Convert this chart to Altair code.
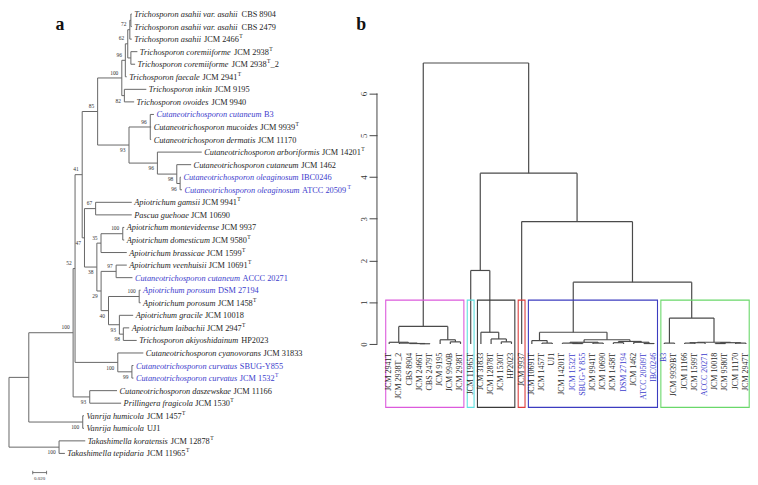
import altair as alt
import pandas as pd

# ======================= panel a : ML tree =======================
tip_taxon = [
    "Trichosporon asahii var. asahii", "Trichosporon asahii var. asahii", "Trichosporon asahii",
    "Trichosporon coremiiforme", "Trichosporon coremiiforme", "Trichosporon faecale",
    "Trichosporon inkin", "Trichosporon ovoides", "Cutaneotrichosporon cutaneum",
    "Cutaneotrichosporon mucoides", "Cutaneotrichosporon dermatis", "Cutaneotrichosporon arboriformis",
    "Cutaneotrichosporon cutaneum", "Cutaneotrichosporon oleaginosum", "Cutaneotrichosporon oleaginosum",
    "Apiotrichum gamsii", "Pascua guehoae", "Apiotrichum montevideense", "Apiotrichum domesticum",
    "Apiotrichum brassicae", "Apiotrichum veenhuisii", "Cutaneotrichosporon cutaneum",
    "Apiotrichum porosum", "Apiotrichum porosum", "Apiotrichum gracile", "Apiotrichum laibachii",
    "Trichosporon akiyoshidainum", "Cutaneotrichosporon cyanovorans", "Cutaneotrichosporon curvatus",
    "Cutaneotrichosporon curvatus", "Cutaneotrichosporon daszewskae", "Prillingera fragicola",
    "Vanrija humicola", "Vanrija humicola", "Takashimella koratensis", "Takashimella tepidaria"]
tip_strain = [
    "CBS 8904", "CBS 2479", "JCM 2466", "JCM 2938", "JCM 2938", "JCM 2941", "JCM 9195", "JCM 9940",
    "B3", "JCM 9939", "JCM 11170", "JCM 14201", "JCM 1462", "IBC0246", "ATCC 20509", "JCM 9941",
    "JCM 10690", "JCM 9937", "JCM 9580", "JCM 1599", "JCM 10691", "ACCC 20271", "DSM 27194",
    "JCM 1458", "JCM 10018", "JCM 2947", "HP2023", "JCM 31833", "SBUG-Y855", "JCM 1532",
    "JCM 11166", "JCM 1530", "JCM 1457", "UJ1", "JCM 12878", "JCM 11965"]
tip_type_strain = [0, 0, 1, 1, 1, 1, 0, 0, 0, 1, 0, 1, 0, 0, 1, 1, 0, 0, 1, 1, 1, 0, 0, 1, 0, 1,
                   0, 0, 0, 1, 0, 1, 1, 0, 1, 1]
tip_suffix = ["", "", "", "", "_2"] + [""] * 31
tip_isolate = [0, 0, 0, 0, 0, 0, 0, 0, 1, 0, 0, 0, 0, 1, 1, 0, 0, 0, 0, 0, 0, 1, 1, 0, 0, 0,
               0, 0, 1, 1, 0, 0, 0, 0, 0, 0]
tip_depth = [0.1773, 0.1773, 0.1773, 0.1854, 0.1821, 0.1700, 0.1983, 0.1807, 0.2093, 0.2053,
             0.2053, 0.2783, 0.2630, 0.2483, 0.2497, 0.1773, 0.1773, 0.1664, 0.1664, 0.1701,
             0.1701, 0.1783, 0.1901, 0.1901, 0.1793, 0.1736, 0.1844, 0.1940, 0.1797, 0.1797,
             0.1560, 0.1619, 0.1083, 0.1083, 0.1101, 0.0807]

node_id = ["root", "nA", "nTak", "nVan", "nB", "nC", "nDP", "nCy", "nCu", "nD",
           "nP", "nQ", "nS", "nU", "nX", "n12", "n45", "n78", "nR", "nB3",
           "n1215", "n1315", "n1415", "nE", "n1617", "nF", "nG", "nN", "nH", "nI",
           "nJ", "nK", "nL", "nM"]
node_depth = [0.0, 0.0286, 0.0723, 0.1065, 0.0926, 0.0954, 0.1166, 0.1571, 0.1775, 0.1057,
              0.1280, 0.1629, 0.1680, 0.1715, 0.1745, 0.1760, 0.1760, 0.1666, 0.1733, 0.2040,
              0.2143, 0.2423, 0.2471, 0.1090, 0.1251, 0.1269, 0.1329, 0.1643, 0.1330, 0.1547,
              0.1437, 0.1880, 0.1594, 0.1651]
node_support = ["", "", "100", "100", "100", "52", "93", "100", "99", "41",
                "85", "100", "96", "62", "72", "", "", "82", "93", "96",
                "96", "98", "96", "47", "67", "38", "35", "100", "29", "97",
                "40", "100", "93", "98"]
node_children = [
    ["nA", "nTak"], ["nB", "nVan"], ["t35", "t36"], ["t33", "t34"], ["nC", "nDP"],
    ["nD", "nCy"], ["t31", "t32"], ["t28", "nCu"], ["t29", "t30"], ["nP", "nE"],
    ["nQ", "nR"], ["nS", "n78"], ["nU", "t6"], ["nX", "n45"], ["n12", "t3"],
    ["t1", "t2"], ["t4", "t5"], ["t7", "t8"], ["nB3", "n1215"], ["t9", "t10", "t11"],
    ["t12", "n1315"], ["t13", "n1415"], ["t14", "t15"], ["n1617", "nF"], ["t16", "t17"],
    ["nG", "nH"], ["nN", "t20"], ["t18", "t19"], ["nI", "nJ"], ["t21", "t22"],
    ["nK", "nL"], ["t23", "t24"], ["t25", "nM"], ["t26", "t27"]]
scale_bar_length = 0.02
scale_bar_label = "0.020"

# ======================= panel b : dendrogram =======================
leaf_b = ["JCM 2941T", "JCM 2938T_2", "CBS 8904", "JCM 2466T", "CBS 2479T", "JCM 9195",
          "JCM 9940B", "JCM 2938T", "JCM 11965T", "JCM 31833", "JCM 12878T", "JCM 1530T",
          "HP2023", "JCM 9937", "JCM 10691T", "JCM 1457T", "UJ1", "JCM 14201T", "JCM 1532T",
          "SBUG-Y 855", "JCM 9941T", "JCM 10690", "JCM 1458T", "DSM 27194", "JCM 1462",
          "ATCC 20509T", "IBC0246", "B3", "JCM 9939BT", "JCM 11166", "JCM 1599T",
          "ACCC 20271", "JCM 10018", "JCM 9580T", "JCM 11170", "JCM 2947T"]
leaf_b_isolate = [0, 0, 0, 0, 0, 0, 0, 0, 0, 0, 0, 0, 0, 0, 0, 0, 0, 0, 1, 1, 0, 0, 0, 1, 0,
                  1, 1, 1, 0, 0, 0, 1, 0, 0, 0, 0]
# R-style merge table: negative = leaf position, positive = earlier merge
merge_left = [-4, -3, -2, -1, -7, -6, 4, -12, -11, -10, -9, -16, -15, -19, -18, -21, 15, -23,
              -26, -25, 18, 17, 13, -28, -30, 25, -33, -35, 27, 26, 24, 23, -14, 11, 7]
merge_right = [-5, 1, 2, 3, -8, 5, 6, -13, 8, 9, 10, -17, 12, -20, 14, -22, 16, -24,
               -27, 19, 20, 21, 22, -29, -31, -32, -34, -36, 28, 29, 30, 31, 32, 33, 34]
merge_height = [0.005, 0.01, 0.02, 0.04, 0.05, 0.10, 0.42, 0.05, 0.12, 0.28, 1.76, 0.02, 0.08,
                0.01, 0.02, 0.02, 0.04, 0.03, 0.01, 0.04, 0.06, 0.10, 0.28, 0.02, 0.02, 0.03,
                0.01, 0.02, 0.03, 0.04, 0.62, 1.48, 2.93, 4.09, 6.73]
box_first = [1, 9, 10, 14, 15, 28]
box_last = [8, 9, 13, 14, 27, 36]
box_color = ["#dc5adc", "#5fe0e0", "#3a3a3a", "#dc3c3c", "#3c3cc0", "#6ad86a"]
axis_ticks = [0, 1, 2, 3, 4, 5, 6]

# ======================= layout constants =======================
W, H = 750, 477
SERIF = "Liberation Serif"
BLUE = "#3c3ccc"
INK = "#1e1e1e"
FS = 8.4           # tip label size
FS_SUP = 5.6
FS_BOOT = 5.5
PX_A = 700.0       # px per substitution unit
XA_DOM = [-1.0 / PX_A, (W - 1.0) / PX_A]
ROW_A = 12.69      # px per tip row
YA_LO = 1 - 3.5 / ROW_A
YA_DOM = [YA_LO, YA_LO + H / ROW_A]
LEAF_B = 10.3      # px per leaf in panel b
XB_LO = 1 - 385.3 / LEAF_B
XB_DOM = [XB_LO, XB_LO + W / LEAF_B]
UNIT_B = 42.2      # px per height unit
YB_DOM = [(337 - H) / UNIT_B, 337 / UNIT_B]
AXIS_IDX = -0.2
BOX_BOTTOM = -1.52

ROMAN = {' ': 250, 'A': 722, 'B': 667, 'C': 667, 'D': 722, 'E': 611, 'F': 556, 'G': 722,
         'H': 722, 'I': 333, 'J': 389, 'K': 722, 'L': 611, 'M': 889, 'N': 722, 'O': 722,
         'P': 556, 'Q': 722, 'R': 667, 'S': 556, 'T': 611, 'U': 722, 'V': 722, 'W': 944,
         'X': 722, 'Y': 722, 'Z': 611, '-': 333, '_': 500, '.': 250}
ITALIC = {' ': 250, 'a': 500, 'b': 500, 'c': 444, 'd': 500, 'e': 444, 'f': 278, 'g': 500,
          'h': 500, 'i': 278, 'j': 278, 'k': 444, 'l': 278, 'm': 722, 'n': 500, 'o': 500,
          'p': 500, 'q': 500, 'r': 389, 's': 389, 't': 278, 'u': 500, 'v': 444, 'w': 667,
          'x': 444, 'y': 444, 'z': 389, 'A': 611, 'C': 667, 'P': 611, 'T': 556, 'V': 611,
          '.': 250}


def text_w(s, table, size):
    return sum(table.get(c, 500) for c in s) * size / 1000.0


# ---------- tree geometry ----------
depth = {f"t{i + 1}": d for i, d in enumerate(tip_depth)}
ypos = {f"t{i + 1}": i + 1 for i in range(len(tip_depth))}
children = dict(zip(node_id, node_children))
parent = {}
for n, ch in children.items():
    for c in ch:
        parent[c] = n
for n, d in zip(node_id, node_depth):
    depth[n] = d


def get_y(n):
    if n not in ypos:
        ch = children[n]
        ypos[n] = (get_y(ch[0]) + get_y(ch[-1])) / 2
    return ypos[n]


for n in node_id:
    get_y(n)

seg_a = []
for n in node_id:
    ch = children[n]
    seg_a.append(dict(x=depth[n], x2=depth[n], y=ypos[ch[0]], y2=ypos[ch[-1]]))
    for c in ch:
        seg_a.append(dict(x=depth[n], x2=depth[c], y=ypos[c], y2=ypos[c]))
seg_a = pd.DataFrame(seg_a)

boot = []
off = 5.4 / ROW_A
for n, s in zip(node_id, node_support):
    if not s:
        continue
    sib = children[parent[n]]
    shift = -off if sib[0] == n else (off if sib[-1] == n else 0)
    boot.append(dict(x=depth[n], y=ypos[n] + shift, t=s))
boot = pd.DataFrame(boot)

tips = []
for i in range(len(tip_taxon)):
    col = BLUE if tip_isolate[i] else INK
    x_it = tip_depth[i] + 2.5 / PX_A
    x_st = x_it + (text_w(tip_taxon[i], ITALIC, FS) + 0.25 * FS) / PX_A
    x_sup = x_st + (text_w(tip_strain[i], ROMAN, FS) + 0.3) / PX_A
    x_suf = x_sup + (text_w("T", ROMAN, FS_SUP) + 0.2) / PX_A
    tips.append(dict(y=i + 1, col=col, x_it=x_it, taxon=tip_taxon[i], x_st=x_st,
                     strain=tip_strain[i], x_sup=x_sup,
                     sup="T" if tip_type_strain[i] else "", y_sup=i + 1 - 3.0 / ROW_A,
                     x_suf=x_suf, suf=tip_suffix[i]))
tips = pd.DataFrame(tips)

XA = alt.Scale(domain=XA_DOM, nice=False, zero=False)
YA = alt.Scale(domain=YA_DOM, nice=False, zero=False, reverse=True)


def ax(field="x"):
    return alt.X(f"{field}:Q", scale=XA, axis=None)


def ay(field="y"):
    return alt.Y(f"{field}:Q", scale=YA, axis=None)


tree = alt.Chart(seg_a).mark_rule(color="#666666", strokeWidth=1).encode(
    x=ax(), x2="x2:Q", y=ay(), y2="y2:Q")

txt_common = dict(font=SERIF, baseline="middle", align="left")
tip_it = alt.Chart(tips).mark_text(fontSize=FS, fontStyle="italic", **txt_common).encode(
    x=ax("x_it"), y=ay(), text="taxon:N", color=alt.Color("col:N", scale=None))
tip_st = alt.Chart(tips).mark_text(fontSize=FS, **txt_common).encode(
    x=ax("x_st"), y=ay(), text="strain:N", color=alt.Color("col:N", scale=None))
tip_sup = alt.Chart(tips).mark_text(fontSize=FS_SUP, **txt_common).encode(
    x=ax("x_sup"), y=ay("y_sup"), text="sup:N", color=alt.Color("col:N", scale=None))
tip_suf = alt.Chart(tips).mark_text(fontSize=FS, **txt_common).encode(
    x=ax("x_suf"), y=ay(), text="suf:N", color=alt.Color("col:N", scale=None))
boot_t = alt.Chart(boot).mark_text(fontSize=FS_BOOT, font=SERIF, align="right",
                                   baseline="middle", dx=-3.5, color="#333333").encode(
    x=ax(), y=ay(), text="t:N")

sb_x0 = 24.0 / PX_A
sb_y = YA_LO + 467 / ROW_A
sb = pd.DataFrame([dict(x=sb_x0, x2=sb_x0 + scale_bar_length, y=sb_y, y2=sb_y),
                   dict(x=sb_x0, x2=sb_x0, y=sb_y - 1.8 / ROW_A, y2=sb_y + 1.8 / ROW_A),
                   dict(x=sb_x0 + scale_bar_length, x2=sb_x0 + scale_bar_length,
                        y=sb_y - 1.8 / ROW_A, y2=sb_y + 1.8 / ROW_A)])
sbar = alt.Chart(sb).mark_rule(color="#555555", strokeWidth=0.8).encode(
    x=ax(), x2="x2:Q", y=ay(), y2="y2:Q")
sbt = alt.Chart(pd.DataFrame([dict(x=sb_x0 + scale_bar_length / 2,
                                   y=YA_LO + 473 / ROW_A, t=scale_bar_label)])).mark_text(
    fontSize=5, font=SERIF, color="#333333", baseline="middle").encode(
    x=ax(), y=ay(), text="t:N")
lab_a = alt.Chart(pd.DataFrame([dict(x=0.0735, y=YA_LO + 15 / ROW_A, t="a")])).mark_text(
    fontSize=18, font=SERIF, fontWeight="bold", color="#111111", baseline="middle").encode(
    x=ax(), y=ay(), text="t:N")

panel_a = alt.layer(tree, tip_it, tip_st, tip_sup, tip_suf, boot_t, sbar, sbt, lab_a)

# ---------- dendrogram geometry ----------
node_x, node_h = [], []


def xh(ref):
    if ref < 0:
        return float(-ref), 0.0
    return node_x[ref - 1], node_h[ref - 1]


seg_b = []
for a, b, h in zip(merge_left, merge_right, merge_height):
    xa, ha = xh(a)
    xb, hb = xh(b)
    seg_b.append(dict(x=xa, x2=xb, y=h, y2=h))
    seg_b.append(dict(x=xa, x2=xa, y=ha, y2=h))
    seg_b.append(dict(x=xb, x2=xb, y=hb, y2=h))
    node_x.append((xa + xb) / 2)
    node_h.append(h)
seg_b = pd.DataFrame(seg_b)

k = len(box_first)
hs = sorted(merge_height, reverse=True)
box_top = (hs[k - 2] + hs[k - 1]) / 2
boxes = pd.DataFrame([dict(x=f - 0.34, x2=l + 0.33, y=BOX_BOTTOM, y2=box_top, c=c)
                      for f, l, c in zip(box_first, box_last, box_color)])
leaves = pd.DataFrame([dict(x=i + 1, y=0.0, t=t, col=BLUE if leaf_b_isolate[i] else INK)
                       for i, t in enumerate(leaf_b)])

XB = alt.Scale(domain=XB_DOM, nice=False, zero=False)
YB = alt.Scale(domain=YB_DOM, nice=False, zero=False)
axis_px = (AXIS_IDX - XB_DOM[0]) / (XB_DOM[1] - XB_DOM[0]) * W
YB_AXIS = alt.Axis(values=axis_ticks, orient="left", offset=-axis_px, domain=False,
                   grid=False, tickSize=8, tickColor="#444444", tickWidth=1,
                   labelAngle=270, labelAlign="center", labelBaseline="bottom",
                   labelPadding=1, labelFont=SERIF, labelFontSize=9, labelColor="#333333",
                   title=None)


def bx(field="x"):
    return alt.X(f"{field}:Q", scale=XB, axis=None)


def by(field="y"):
    return alt.Y(f"{field}:Q", scale=YB, axis=YB_AXIS)


dend = alt.Chart(seg_b).mark_rule(color="#4a4a4a", strokeWidth=1.2).encode(
    x=bx(), x2="x2:Q", y=by(), y2="y2:Q")
rects = alt.Chart(boxes).mark_rect(fillOpacity=0, strokeWidth=1.1).encode(
    x=bx(), x2="x2:Q", y=by(), y2="y2:Q", stroke=alt.Stroke("c:N", scale=None))
leaf_t = alt.Chart(leaves).mark_text(fontSize=8, font=SERIF, angle=270, align="right",
                                     baseline="middle", dx=-9).encode(
    x=bx(), y=by(), text="t:N", color=alt.Color("col:N", scale=None))
axis_line = alt.Chart(pd.DataFrame([dict(x=AXIS_IDX, y=min(axis_ticks),
                                         y2=max(axis_ticks))])).mark_rule(
    color="#444444", strokeWidth=1).encode(x=bx(), y=by(), y2="y2:Q")
lab_b = alt.Chart(pd.DataFrame([dict(x=1 + (365 - 393.3) / LEAF_B, y=(345 - 23) / UNIT_B,
                                     t="b")])).mark_text(
    fontSize=18, font=SERIF, fontWeight="bold", color="#111111", baseline="middle").encode(
    x=bx(), y=by(), text="t:N")

panel_b = alt.layer(dend, rects, leaf_t, axis_line, lab_b)

chart = alt.layer(panel_a, panel_b).resolve_scale(
    x="independent", y="independent").properties(
    width=W, height=H, autosize=alt.AutoSizeParams(type="none"), padding=0,
    background="white").configure_view(strokeWidth=0)

chart.save("out.html", embed_options={"renderer": "svg", "actions": False})
